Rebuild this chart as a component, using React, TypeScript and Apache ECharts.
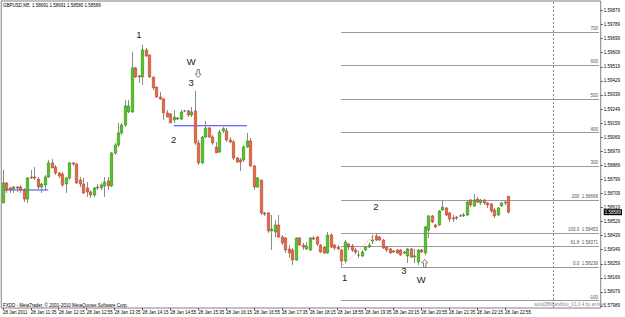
import React, { useEffect, useRef } from "react";
import * as echarts from "echarts";

const TOTAL_SLOTS = 172;
const tickLabels = [
  "28 Jan 2011", "28 Jan 11:35", "28 Jan 12:15", "28 Jan 12:55", "28 Jan 13:35",
  "28 Jan 14:15", "28 Jan 14:55", "28 Jan 15:35", "28 Jan 16:15", "28 Jan 16:55",
  "28 Jan 17:35", "28 Jan 18:15", "28 Jan 18:55", "28 Jan 19:35", "28 Jan 20:15",
  "28 Jan 20:55", "28 Jan 21:35", "28 Jan 22:15", "28 Jan 22:55",
];

const opens = [
  1.58648,1.58776,1.58744,1.58737,1.58750,1.58750,1.58731,1.58673,1.58814,1.58814,
  1.58801,1.58750,1.58763,1.58814,1.58904,1.58878,1.58840,1.58833,1.58769,1.58808,
  1.58904,1.58897,1.58795,1.58769,1.58744,1.58718,1.58699,1.58750,1.58744,1.58757,
  1.58789,1.58757,1.58968,1.59019,1.59096,1.59147,1.59230,1.59230,1.59512,1.59461,
  1.59454,1.59627,1.59595,1.59454,1.59390,1.59326,1.59313,1.59224,1.59217,1.59179,
  1.59185,1.59185,1.59237,1.59237,1.59211,1.59237,1.59032,1.58904,1.59070,1.59128,
  1.59070,1.59006,1.58974,1.59109,1.59109,1.59051,1.59038,1.58936,1.58923,1.58923,
  1.59006,1.59045,1.58885,1.58750,1.58795,1.58584,1.58584,1.58469,1.58462,1.58507,
  1.58430,1.58424,1.58354,1.58347,1.58283,1.58424,1.58379,1.58354,1.58347,1.58424,
  1.58430,1.58379,1.58366,1.58328,1.58443,1.58379,1.58366,1.58347,1.58277,1.58385,
  1.58373,1.58347,1.58315,1.58309,1.58347,1.58366,1.58405,1.58437,1.58430,1.58411,
  1.58366,1.58354,1.58341,1.58347,1.58347,1.58334,1.58309,1.58354,1.58302,1.58270,
  1.58347,1.58328,1.58475,1.58565,1.58507,1.58507,1.58603,1.58616,1.58584,1.58552,
  1.58558,1.58565,1.58565,1.58571,1.58667,1.58629,1.58673,1.58648,1.58667,1.58648,
  1.58642,1.58603,1.58571,1.58629,1.58648,1.58691,
];
const closes = [
  1.58776,1.58731,1.58731,1.58750,1.58744,1.58731,1.58673,1.58808,1.58808,1.58808,
  1.58750,1.58769,1.58814,1.58904,1.58872,1.58840,1.58821,1.58763,1.58808,1.58904,
  1.58897,1.58776,1.58769,1.58712,1.58718,1.58699,1.58744,1.58744,1.58763,1.58782,
  1.58757,1.58968,1.59019,1.59096,1.59147,1.59269,1.59269,1.59512,1.59454,1.59454,
  1.59627,1.59589,1.59454,1.59384,1.59326,1.59313,1.59224,1.59198,1.59160,1.59198,
  1.59192,1.59230,1.59237,1.59211,1.59230,1.59032,1.58904,1.59070,1.59128,1.59070,
  1.59032,1.58968,1.59102,1.59122,1.59051,1.59038,1.58936,1.58910,1.58910,1.59006,
  1.59045,1.58885,1.58750,1.58808,1.58584,1.58577,1.58469,1.58481,1.58507,1.58430,
  1.58392,1.58347,1.58328,1.58283,1.58424,1.58379,1.58366,1.58373,1.58424,1.58417,
  1.58385,1.58334,1.58328,1.58443,1.58366,1.58360,1.58354,1.58277,1.58398,1.58366,
  1.58347,1.58334,1.58315,1.58334,1.58366,1.58379,1.58411,1.58411,1.58411,1.58360,
  1.58347,1.58328,1.58334,1.58328,1.58315,1.58328,1.58354,1.58302,1.58309,1.58347,
  1.58334,1.58494,1.58565,1.58526,1.58494,1.58597,1.58622,1.58571,1.58545,1.58545,
  1.58552,1.58565,1.58571,1.58654,1.58635,1.58667,1.58654,1.58667,1.58648,1.58635,
  1.58597,1.58565,1.58616,1.58648,1.58654,1.58589,
];
const lows = [
  1.58648,1.58712,1.58712,1.58712,1.58718,1.58712,1.58654,1.58648,1.58801,1.58795,
  1.58737,1.58712,1.58731,1.58808,1.58872,1.58827,1.58808,1.58750,1.58712,1.58795,
  1.58885,1.58769,1.58750,1.58705,1.58686,1.58680,1.58686,1.58731,1.58731,1.58686,
  1.58731,1.58750,1.58955,1.59006,1.59083,1.59134,1.59224,1.59224,1.59448,1.59416,
  1.59403,1.59582,1.59448,1.59371,1.59320,1.59307,1.59179,1.59198,1.59160,1.59160,
  1.59179,1.59179,1.59230,1.59198,1.59198,1.59019,1.58891,1.58897,1.59064,1.59064,
  1.59019,1.58968,1.58968,1.59096,1.59038,1.59032,1.58923,1.58904,1.58853,1.58910,
  1.59000,1.58878,1.58731,1.58744,1.58571,1.58565,1.58456,1.58347,1.58430,1.58424,
  1.58379,1.58328,1.58296,1.58251,1.58277,1.58373,1.58347,1.58347,1.58341,1.58411,
  1.58373,1.58328,1.58322,1.58322,1.58360,1.58347,1.58347,1.58238,1.58264,1.58347,
  1.58334,1.58322,1.58296,1.58302,1.58341,1.58360,1.58385,1.58405,1.58405,1.58354,
  1.58334,1.58322,1.58328,1.58322,1.58309,1.58322,1.58264,1.58296,1.58264,1.58251,
  1.58328,1.58315,1.58424,1.58520,1.58488,1.58501,1.58597,1.58565,1.58526,1.58526,
  1.58539,1.58558,1.58558,1.58565,1.58622,1.58622,1.58648,1.58635,1.58635,1.58616,
  1.58584,1.58552,1.58565,1.58622,1.58635,1.58580,
];
const highs = [
  1.58859,1.58782,1.58750,1.58757,1.58757,1.58763,1.58744,1.58814,1.58859,1.58878,
  1.58814,1.58776,1.58827,1.58923,1.58929,1.58891,1.58846,1.58846,1.58814,1.58910,
  1.58910,1.58904,1.58814,1.58808,1.58782,1.58731,1.58750,1.58769,1.58776,1.58814,
  1.58814,1.58974,1.59032,1.59160,1.59160,1.59307,1.59307,1.59614,1.59518,1.59467,
  1.59659,1.59640,1.59595,1.59454,1.59390,1.59358,1.59320,1.59243,1.59224,1.59243,
  1.59198,1.59243,1.59243,1.59243,1.59262,1.59365,1.59051,1.59077,1.59173,1.59134,
  1.59083,1.59038,1.59115,1.59134,1.59128,1.59070,1.59051,1.58942,1.58936,1.59019,
  1.59096,1.59064,1.58891,1.58814,1.58795,1.58590,1.58590,1.58571,1.58539,1.58571,
  1.58443,1.58430,1.58379,1.58360,1.58430,1.58430,1.58392,1.58398,1.58430,1.58437,
  1.58437,1.58385,1.58373,1.58462,1.58456,1.58385,1.58379,1.58354,1.58411,1.58392,
  1.58385,1.58360,1.58341,1.58347,1.58373,1.58392,1.58443,1.58453,1.58437,1.58417,
  1.58373,1.58360,1.58347,1.58354,1.58354,1.58341,1.58360,1.58360,1.58354,1.58354,
  1.58354,1.58501,1.58571,1.58571,1.58514,1.58603,1.58667,1.58622,1.58590,1.58571,
  1.58565,1.58577,1.58584,1.58667,1.58673,1.58705,1.58686,1.58673,1.58673,1.58654,
  1.58648,1.58616,1.58622,1.58654,1.58661,1.58691,
];

const priceTicks = [
  1.57989, 1.58079, 1.58169, 1.58259, 1.58349, 1.58439, 1.58529, 1.58619, 1.58709, 1.58799, 1.58889,
  1.58979, 1.59069, 1.59159, 1.59249, 1.59339, 1.59429, 1.59519, 1.59609, 1.59699, 1.59789, 1.59879,
];
const bidPrice = 1.58589;

const fiboTexts = ["700", "600", "500", "400", "300", "200  1.58668", "100.0  1.58453", "61.8  1.58371", "0.0  1.58238", "-100"];
const fiboPrices = [1.59743, 1.59528, 1.59313, 1.59098, 1.58883, 1.58668, 1.58453, 1.58371, 1.58238, 1.58023];
const fiboStartIdx = 97;
const blueLevels = [
  { from: 0, to: 13, price: 1.58731 },
  { from: 49, to: 70, price: 1.59142 },
];
const trendPoints = [[97, 1.58238], [107, 1.58453]];
const futureLineIdx = 158;
const waveLabels = [
  { text: "1", idx: 39, price: 1.59723 },
  { text: "W", idx: 54, price: 1.59556 },
  { text: "3", idx: 54, price: 1.59418 },
  { text: "2", idx: 49, price: 1.59051 },
  { text: "2", idx: 107, price: 1.58628 },
  { text: "1", idx: 98, price: 1.58168 },
  { text: "3", idx: 115, price: 1.58219 },
  { text: "W", idx: 120, price: 1.58161 },
];
const arrowMarks = [
  { dir: "down", idx: 56, price: 1.59476 },
  { dir: "up", idx: 121, price: 1.58262 },
];

const ARROW_DOWN = "path://M3,0L7,0L7,6L10,6L5,11L0,6L3,6Z";
const ARROW_UP = "path://M5,0L10,5L7,5L7,11L3,11L3,5L0,5Z";
const FONT = "Liberation Sans";

export default function App() {
  const ref = useRef<HTMLDivElement>(null);
  useEffect(() => {
    const chart = echarts.init(ref.current!, null, { renderer: "svg" });
    const categories = Array.from({ length: TOTAL_SLOTS }, (_, i) => String(i));
    const ohlc = opens.map((o, i) => [i, o, closes[i], lows[i], highs[i]]);
    const showTick = (idx: number) => idx % 8 === 0 && idx / 8 < tickLabels.length;

    const fiboLines: any[] = fiboPrices.map((p, k) => [
      {
        coord: [fiboStartIdx, p],
        label: {
          show: true, position: "insideEndTop", distance: 1, formatter: fiboTexts[k],
          fontSize: 4.5, color: "#555", fontFamily: FONT,
        },
      },
      { coord: [TOTAL_SLOTS - 1, p] },
    ]);

    const lineSeries = (pts: number[][], color: string, type: any) => ({
      type: "line",
      data: pts,
      symbol: "none",
      silent: true,
      z: 3,
      lineStyle: { color, width: 1, type },
      itemStyle: { color },
    });

    const markPointData: any[] = [
      ...waveLabels.map((w) => ({
        coord: [w.idx, w.price], name: w.text, symbol: "circle", symbolSize: 1,
        itemStyle: { color: "rgba(0,0,0,0)" },
        label: {
          show: true, position: "inside", formatter: "{b}", fontSize: 9.5, color: "#222",
          fontFamily: FONT, textBorderWidth: 0,
        },
      })),
      ...arrowMarks.map((a) => ({
        coord: [a.idx, a.price], name: "",
        symbol: a.dir === "down" ? ARROW_DOWN : ARROW_UP, symbolSize: [6, 8],
        itemStyle: { color: "#ffffff", borderColor: "#666", borderWidth: 0.8 },
        label: { show: false },
      })),
    ];

    const option: any = {
      animation: false,
      backgroundColor: "#ffffff",
      grid: { left: 1, right: 17, top: 1, bottom: 9, show: true, borderColor: "#808080", borderWidth: 1 },
      xAxis: {
        type: "category",
        data: categories,
        boundaryGap: true,
        axisLine: { show: false },
        axisTick: { show: true, interval: (i: number) => showTick(i), alignWithLabel: true, length: 2, lineStyle: { color: "#555" } },
        axisLabel: {
          show: true, interval: (i: number) => showTick(i),
          formatter: (_v: string, i: number) => tickLabels[i / 8] ?? "",
          align: "left", fontSize: 4.5, margin: 2, color: "#000", fontFamily: FONT,
        },
        splitLine: { show: false },
      },
      yAxis: {
        type: "value",
        position: "right",
        min: 1.57976,
        max: 1.5994,
        axisLine: { show: false },
        axisTick: { show: true, customValues: priceTicks, length: 2, lineStyle: { color: "#555" } },
        axisLabel: {
          show: true,
          customValues: [...priceTicks, bidPrice],
          formatter: (v: number) => (Math.abs(v - bidPrice) < 1e-7 ? "{b|" + v.toFixed(5) + "}" : v.toFixed(5)),
          fontSize: 4.5, margin: 3, color: "#000", fontFamily: FONT,
          rich: { b: { backgroundColor: "#000", color: "#fff", fontSize: 4.5, fontFamily: FONT, padding: [1, 1, 0, 1] } },
        },
        splitLine: { show: false },
      },
      series: [
        {
          type: "custom",
          data: ohlc,
          encode: { x: 0, y: [1, 2, 3, 4] },
          clip: true,
          z: 5,
          renderItem: (_params: any, api: any) => {
            const idx = api.value(0);
            const o = api.value(1), c = api.value(2), l = api.value(3), h = api.value(4);
            const po = api.coord([idx, o]);
            const pc = api.coord([idx, c]);
            const pl = api.coord([idx, l]);
            const ph = api.coord([idx, h]);
            const w = api.size([1, 0])[0] * 0.68;
            const x = Math.round(po[0]) + 0.5;
            const top = Math.min(po[1], pc[1]);
            const bot = Math.max(po[1], pc[1]);
            const bull = c > o;
            const doji = Math.abs(c - o) < 1e-7;
            const children: any[] = [
              { type: "line", shape: { x1: x, y1: ph[1], x2: x, y2: pl[1] }, style: { stroke: "#8c8c8c", lineWidth: 1 } },
            ];
            if (doji) {
              children.push({ type: "line", shape: { x1: x - w / 2, y1: top, x2: x + w / 2, y2: top }, style: { stroke: "#555", lineWidth: 1 } });
            } else {
              children.push({
                type: "rect",
                shape: { x: x - w / 2, y: top, width: w, height: Math.max(bot - top, 1) },
                style: bull ? { fill: "#52c81e", stroke: "#2f8a10", lineWidth: 0.6 } : { fill: "#e96645", stroke: "#b3432a", lineWidth: 0.6 },
              });
            }
            return { type: "group", children };
          },
        },
        ...blueLevels.map((b) => lineSeries([[b.from, b.price], [b.to, b.price]], "#3a3aff", "solid")),
        lineSeries(trendPoints, "#ff7070", [1, 2]),
        {
          type: "line",
          data: [],
          symbol: "none",
          silent: true,
          z: 2,
          markLine: {
            symbol: ["none", "none"], silent: true, animation: false,
            label: { show: false },
            lineStyle: { color: "#9a9a9a", width: 1, type: "solid", opacity: 1 },
            data: [...fiboLines, { xAxis: futureLineIdx, lineStyle: { color: "#8a8a8a", width: 1, type: [2, 2] } }],
          },
          markPoint: {
            silent: true, animation: false,
            data: markPointData,
          },
        },
      ],
      graphic: [
        { type: "text", x: 3, y: 5, style: { text: "GBPUSD,M5  1.58691 1.58691 1.58580 1.58589", fill: "#000", font: `4.5px "${FONT}"`, textAlign: "left", verticalAlign: "middle" } },
        { type: "text", x: 3, y: 305, style: { text: "FXDD - MetaTrader, \u00A9 2001-2010 MetaQuotes Software Corp.", fill: "#000", font: `4.5px "${FONT}"`, textAlign: "left", verticalAlign: "middle" } },
        { type: "text", x: 605, y: 304, style: { text: "autoDBfibandbox_V1.0 4 by amitee", fill: "#888", font: `4.5px "${FONT}"`, textAlign: "right", verticalAlign: "middle" } },
      ],
    };
    chart.setOption(option);
    return () => chart.dispose();
  }, []);
  return <div ref={ref} style={{ position: "absolute", left: 0, top: 0, width: 625, height: 317 }} />;
}
